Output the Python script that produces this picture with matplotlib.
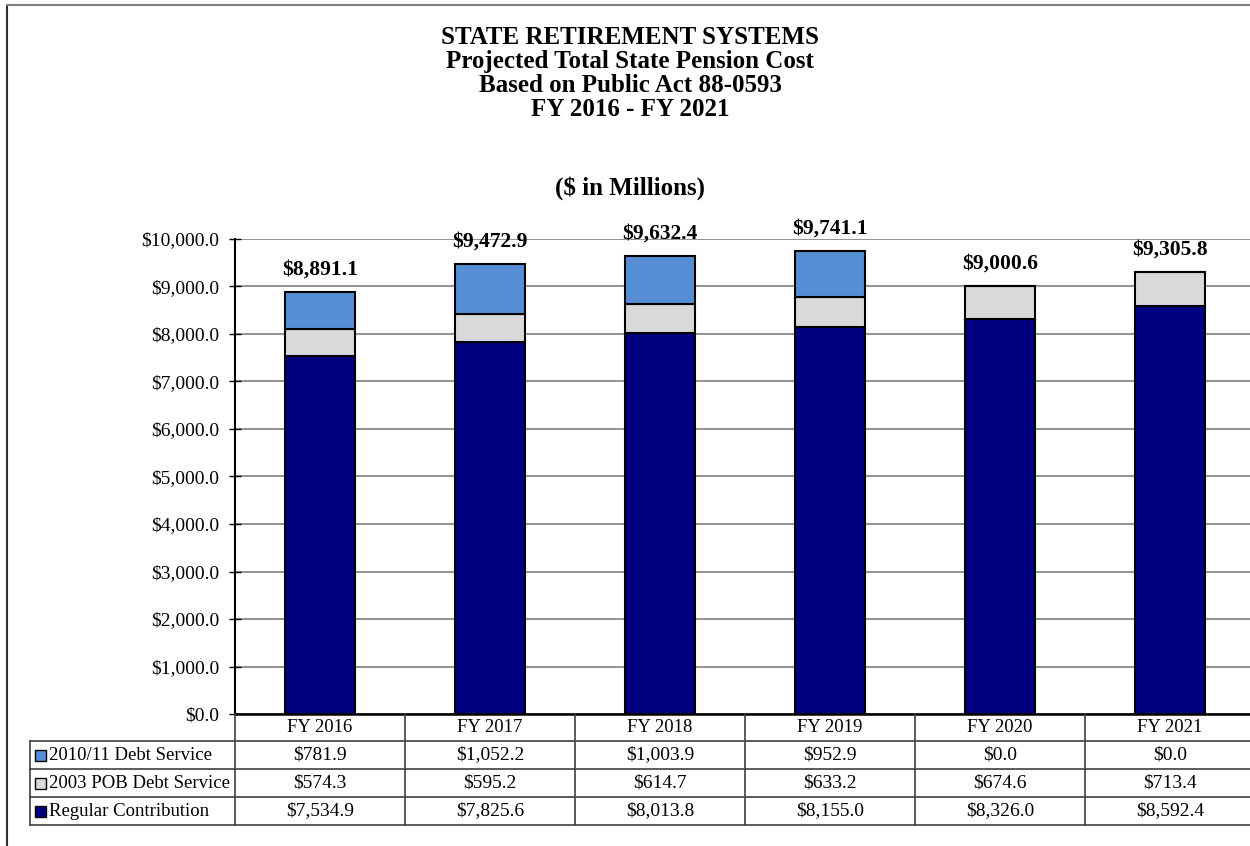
import numpy as np
import matplotlib.pyplot as plt
import matplotlib
from matplotlib.lines import Line2D
from matplotlib.patches import Rectangle

matplotlib.rcParams['font.family'] = ['Liberation Serif', 'DejaVu Serif']

years = ['FY 2016', 'FY 2017', 'FY 2018', 'FY 2019', 'FY 2020', 'FY 2021']
regular = np.array([7534.9, 7825.6, 8013.8, 8155.0, 8326.0, 8592.4])
pob2003 = np.array([574.3, 595.2, 614.7, 633.2, 674.6, 713.4])
debt2010 = np.array([781.9, 1052.2, 1003.9, 952.9, 0.0, 0.0])
totals = np.array([8891.1, 9472.9, 9632.4, 9741.1, 9000.6, 9305.8])
series_names = ['2010/11 Debt Service', '2003 POB Debt Service', 'Regular Contribution']
colors = ['#558ED5', '#D9D9D9', '#000080']

W, H = 1250, 846
fig = plt.figure(figsize=(W / 100, H / 100), dpi=100, facecolor='white')

def fx(px):
    return px / W

def fy(py):
    return 1 - py / H

# plot area in pixels: left 235, right 1255, top 239, bottom 714
ax = fig.add_axes([fx(235), fy(714), fx(1020), (714 - 239) / H])
x = np.arange(len(years))
w = 0.41
ax.bar(x, regular, w, color=colors[2], edgecolor='black', linewidth=1.5, zorder=3)
ax.bar(x, pob2003, w, bottom=regular, color=colors[1], edgecolor='black', linewidth=1.5, zorder=3)
ax.bar(x, debt2010, w, bottom=regular + pob2003, color=colors[0], edgecolor='black', linewidth=1.5, zorder=3)

for xi, t in zip(x, totals):
    ax.annotate('${:,.1f}'.format(t), (xi, t), xytext=(0, 9), textcoords='offset points',
                ha='center', va='bottom', fontsize=15.5, fontweight='bold')

ax.set_xlim(-0.5, len(years) - 0.5)
ax.set_ylim(0, 10000)
ax.set_yticks(np.arange(0, 10001, 1000))
ax.set_yticklabels(['${:,.1f}'.format(v) for v in np.arange(0, 10001, 1000)], fontsize=14)
ax.tick_params(axis='y', length=8.6, width=1, pad=7, direction='inout')
ax.set_xticks([])
ax.grid(axis='y', color='#808080', linewidth=1.2, zorder=0)
for s in ['top', 'right']:
    ax.spines[s].set_visible(False)
ax.spines['left'].set_linewidth(1.5)
ax.spines['bottom'].set_linewidth(1.8)
ax.spines['bottom'].set_zorder(4)

# data table underneath
col_left = 235
col_w = 170
rows_y = [714, 741, 769, 797, 825]
line_col = '#404040'
for i in range(len(years) + 1):
    xp = col_left + i * col_w
    fig.add_artist(Line2D([fx(xp), fx(xp)], [fy(714), fy(825)], color=line_col, lw=1.2))
fig.add_artist(Line2D([fx(30), fx(30)], [fy(741), fy(825)], color=line_col, lw=1.2))
for yp in rows_y[1:]:
    fig.add_artist(Line2D([fx(30), fx(1255)], [fy(yp), fy(yp)], color=line_col, lw=1.2))

for i, yr in enumerate(years):
    fig.text(fx(col_left + (i + 0.5) * col_w), fy(727.5), yr, ha='center', va='center', fontsize=13.5)

table_rows = [debt2010, pob2003, regular]
for r, (name, vals, c) in enumerate(zip(series_names, table_rows, colors)):
    yc = (rows_y[r + 1] + rows_y[r + 2]) / 2
    fig.add_artist(Rectangle((fx(35), fy(yc + 5.5)), fx(11), 11 / H, facecolor=c,
                             edgecolor='black', lw=1))
    fig.text(fx(49), fy(yc), name, ha='left', va='center', fontsize=13.5)
    for i, v in enumerate(vals):
        fig.text(fx(col_left + (i + 0.5) * col_w), fy(yc), '${:,.1f}'.format(v),
                 ha='center', va='center', fontsize=14)

# titles, placed by baseline
titles = ['STATE RETIREMENT SYSTEMS', 'Projected Total State Pension Cost',
          'Based on Public Act 88-0593', 'FY 2016 - FY 2021']
for i, t in enumerate(titles):
    fig.text(fx(630), fy(44 + 24 * i), t, ha='center', va='baseline', fontsize=18, fontweight='bold')
fig.text(fx(630), fy(195), '($ in Millions)', ha='center', va='baseline', fontsize=18, fontweight='bold')

# outer frame
fig.add_artist(Line2D([fx(7), fx(7)], [fy(5), 0], color='#303030', lw=1.5))
fig.add_artist(Line2D([fx(7), 1], [fy(5), fy(5)], color='#808080', lw=1.5))

plt.savefig('out.png', dpi=100)
